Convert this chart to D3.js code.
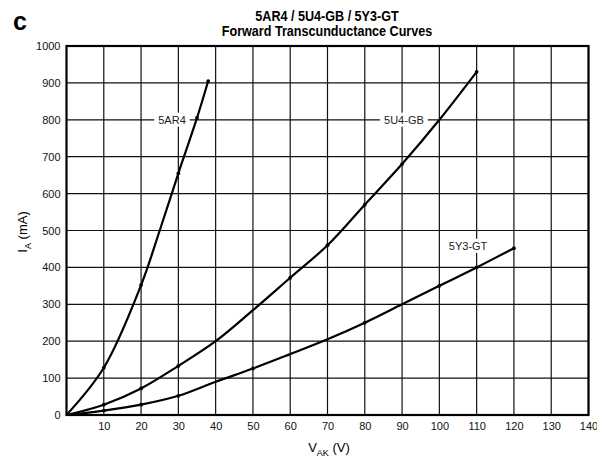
<!DOCTYPE html>
<html>
<head>
<meta charset="utf-8">
<script src="https://cdn.jsdelivr.net/npm/d3@7"></script>
<style>
  body { margin: 0; background: #fff; }
  svg { display: block; font-family: "Liberation Sans", Arial, sans-serif; }
</style>
</head>
<body>
<svg id="chart" width="597" height="462"></svg>
<script>
// values (V_AK in volts, I_A in mA)
const xTicks = [10, 20, 30, 40, 50, 60, 70, 80, 90, 100, 110, 120, 130, 140];
const yTicks = [0, 100, 200, 300, 400, 500, 600, 700, 800, 900, 1000];

const curve5AR4 = [[0, 0], [10, 128], [20, 352], [25, 500], [30, 655], [35, 805], [38, 905]];
const curve5U4 = [[0, 0], [10, 28], [20, 72], [30, 133], [40, 200], [50, 284], [60, 372],
                  [70, 460], [80, 570], [90, 680], [100, 800], [110, 930]];
const curve5Y3 = [[0, 0], [10, 12], [20, 28], [30, 52], [40, 90], [50, 126], [60, 165],
                  [70, 205], [80, 250], [90, 300], [100, 350], [110, 400], [120, 452]];

const marks5AR4 = [10, 20, 30, 35, 38];
const marks5U4 = [10, 20, 30, 60, 70, 80, 90, 110];
const marks5Y3 = [10, 20, 30, 50, 80, 100, 110, 120];

const curveNames = ["5AR4", "5U4-GB", "5Y3-GT"];
const labelAt = [[28.3, 800], [90.5, 800], [107.7, 458]];

const svg = d3.select("#chart");

const x = d3.scaleLinear().domain([0, 140]).range([66.5, 588.5]);
const y = d3.scaleLinear().domain([0, 1000]).range([415, 46]);

// grid
const grid = svg.append("g").attr("class", "grid");
grid.selectAll(".vline")
    .data(xTicks)
    .join("line")
    .attr("x1", d => x(d)).attr("x2", d => x(d))
    .attr("y1", y(0)).attr("y2", y(1000))
    .attr("stroke", "#111")
    .attr("stroke-width", 1.2);
grid.selectAll(".hline")
    .data(yTicks)
    .join("line")
    .attr("x1", x(0)).attr("x2", x(140))
    .attr("y1", d => y(d)).attr("y2", d => y(d))
    .attr("stroke", "#111")
    .attr("stroke-width", 1.2);

// frame
svg.append("rect")
    .attr("x", x(0)).attr("y", y(1000))
    .attr("width", x(140) - x(0)).attr("height", y(0) - y(1000))
    .attr("fill", "none")
    .attr("stroke", "#000")
    .attr("stroke-width", 2.2);

// axes (labels only, the grid carries the ticks)
const xAxis = svg.append("g")
    .attr("transform", `translate(0,${y(0)})`)
    .call(d3.axisBottom(x).tickValues(xTicks).tickFormat(d3.format("d")).tickSize(0).tickPadding(7));
const yAxis = svg.append("g")
    .attr("transform", `translate(${x(0)},0)`)
    .call(d3.axisLeft(y).tickValues(yTicks).tickFormat(d3.format("d")).tickSize(0).tickPadding(6));
[xAxis, yAxis].forEach(a => {
    a.select(".domain").remove();
    a.selectAll("text")
        .attr("font-family", "'Liberation Sans', Arial, sans-serif")
        .attr("font-size", 11)
        .attr("fill", "#111");
});

// curves
const line = d3.line()
    .x(d => x(d[0]))
    .y(d => y(d[1]))
    .curve(d3.curveCatmullRom.alpha(0.5));

const series = [
    { data: curve5AR4, marks: marks5AR4 },
    { data: curve5U4, marks: marks5U4 },
    { data: curve5Y3, marks: marks5Y3 }
];

series.forEach((s, i) => {
    svg.append("path")
        .attr("d", line(s.data))
        .attr("fill", "none")
        .attr("stroke", "#000")
        .attr("stroke-width", 2.2);
    const lookup = new Map(s.data);
    svg.append("g").selectAll("circle")
        .data(s.marks)
        .join("circle")
        .attr("cx", d => x(d))
        .attr("cy", d => y(lookup.get(d)))
        .attr("r", 1.9)
        .attr("fill", "#000");

    // curve label on a white patch that breaks the grid
    const lab = svg.append("g")
        .attr("transform", `translate(${x(labelAt[i][0])},${y(labelAt[i][1])})`);
    const t = lab.append("text")
        .attr("text-anchor", "middle")
        .attr("dy", "0.35em")
        .attr("font-size", 11)
        .attr("fill", "#222")
        .text(curveNames[i]);
    const bb = t.node().getBBox();
    lab.insert("rect", "text")
        .attr("x", bb.x - 4).attr("y", bb.y - 1)
        .attr("width", bb.width + 8).attr("height", bb.height + 2)
        .attr("fill", "#fff");
});

// titles (narrow bold look: squeeze a regular bold face horizontally)
const titleLines = ["5AR4 / 5U4-GB / 5Y3-GT", "Forward Transcunductance Curves"];
svg.append("g")
    .attr("transform", "translate(327,0) scale(0.9,1)")
    .selectAll("text")
    .data(titleLines)
    .join("text")
    .attr("x", 0)
    .attr("y", (d, i) => 21 + i * 15)
    .attr("text-anchor", "middle")
    .attr("font-weight", "bold")
    .attr("font-size", 14)
    .text(d => d);

svg.append("text")
    .attr("x", 13).attr("y", 30)
    .attr("font-weight", "bold")
    .attr("font-size", 25)
    .text("c");

// axis titles
const yt = svg.append("text")
    .attr("transform", "translate(27,232) rotate(-90)")
    .attr("text-anchor", "middle")
    .attr("font-size", 13);
yt.append("tspan").text("I");
yt.append("tspan").attr("font-size", 9).attr("dy", 4).text("A");
yt.append("tspan").attr("dy", -4).text(" (mA)");

const xt = svg.append("text")
    .attr("x", 329).attr("y", 452)
    .attr("text-anchor", "middle")
    .attr("font-size", 13);
xt.append("tspan").text("V");
xt.append("tspan").attr("font-size", 9).attr("dy", 4).text("AK");
xt.append("tspan").attr("dy", -4).text(" (V)");
</script>
</body>
</html>
